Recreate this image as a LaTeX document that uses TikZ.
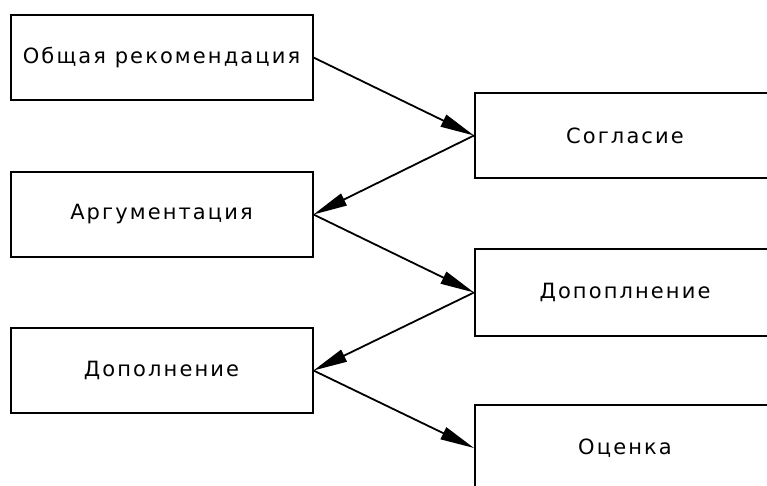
\documentclass[tikz,border=0pt]{standalone}
\usepackage{fontspec}
\setmainfont{DejaVu Sans}[LetterSpace=10]
\usetikzlibrary{arrows.meta}
\begin{document}
\begin{tikzpicture}[x=1pt,y=-1pt,
  box/.style={draw=black, line width=2pt, rectangle, minimum width=302pt, inner sep=0pt, font=\fontsize{21}{24}\selectfont},
  rbox/.style={box, minimum width=300pt},
  conn/.style={draw=black, line width=1.8pt, -{Triangle[length=34pt,width=13pt]}}
]
\useasboundingbox (0,0) rectangle (767,486);
\clip (0,0) rectangle (767,486);
\fill[white] (0,0) rectangle (767,486);
\node[box, minimum height=85pt] (b1) at (161.5,57.5) {Общая рекомендация};
\node[box, minimum height=85pt] (b2) at (161.5,214.5) {Аргументация};
\node[box, minimum height=85pt] (b3) at (161.5,370.5) {Дополнение};
\node[rbox, minimum height=85pt] (r1) at (625,135.5) {Согласие};
\node[rbox, minimum height=87pt] (r2) at (625,292.5) {Допоплнение};
\node[rbox, minimum height=86pt] (r3) at (625,448) {Оценка};
\draw[conn] (b1.east) -- (r1.west);
\draw[conn] (r1.west) -- (b2.east);
\draw[conn] (b2.east) -- (r2.west);
\draw[conn] (r2.west) -- (b3.east);
\draw[conn] (b3.east) -- (r3.west);
\end{tikzpicture}
\end{document}
